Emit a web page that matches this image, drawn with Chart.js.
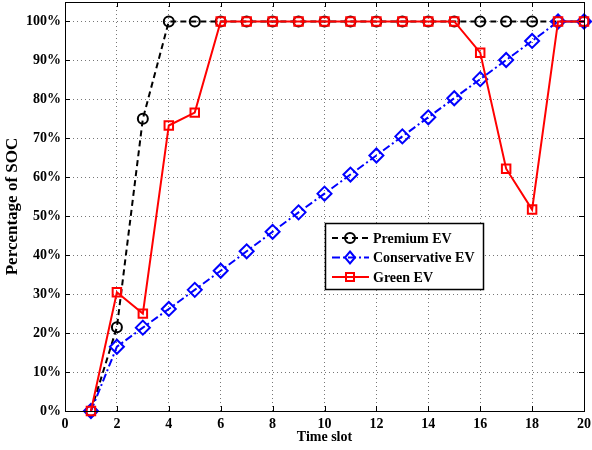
<!DOCTYPE html>
<html>
<head>
<meta charset="utf-8">
<script src="https://cdn.jsdelivr.net/npm/chart.js@4"></script>
<style>
  body { margin: 0; background: #fff; }
</style>
</head>
<body>
<canvas id="soc" width="592" height="450"></canvas>
<script>
// Zeitschlitze und Ladezustand (SOC, %)
const zeitSlots = [1, 2, 3, 4, 5, 6, 7, 8, 9, 10, 11, 12, 13, 14, 15, 16, 17, 18, 19, 20];
const premiumEV = [0, 21.5, 75, 100, 100, 100, 100, 100, 100, 100, 100, 100, 100, 100, 100, 100, 100, 100, 100, 100];
const conservativeEV = [0, 16.5, 21.4, 26.2, 31.1, 36, 41, 46, 51, 55.8, 60.7, 65.6, 70.5, 75.4, 80.3, 85.2, 90.1, 95, 100, 100];
const greenEV = [0, 30.5, 25, 73.3, 76.6, 100, 100, 100, 100, 100, 100, 100, 100, 100, 100, 92, 62.2, 51.7, 100, 100];
const xTicks = [0, 2, 4, 6, 8, 10, 12, 14, 16, 18, 20];
const yTicks = [0, 10, 20, 30, 40, 50, 60, 70, 80, 90, 100];

const schrift = '"Liberation Serif", "DejaVu Serif", serif';

const serien = [
  { label: 'Premium EV', data: premiumEV, color: '#000000', dash: [6, 4], style: 'circle', radius: 5, order: 3 },
  { label: 'Conservative EV', data: conservativeEV, color: '#0000ff', dash: [8, 3, 2, 3], style: 'rectRot', radius: 7, order: 2 },
  { label: 'Green EV', data: greenEV, color: '#ff0000', dash: [], style: 'rect', radius: 6, order: 1 }
];

// Rahmen, Ticks nach innen und Legende im Plotbereich
const rahmenPlugin = {
  id: 'rahmen',
  afterDraw(chart) {
    const { ctx, chartArea: a, scales } = chart;
    ctx.save();
    ctx.strokeStyle = '#000';
    ctx.lineWidth = 1;
    ctx.setLineDash([]);
    ctx.strokeRect(a.left + 0.5, a.top + 0.5, a.right - a.left, a.bottom - a.top);
    ctx.beginPath();
    xTicks.forEach(v => {
      const x = Math.round(scales.x.getPixelForValue(v)) + 0.5;
      ctx.moveTo(x, a.bottom); ctx.lineTo(x, a.bottom - 5);
      ctx.moveTo(x, a.top); ctx.lineTo(x, a.top + 5);
    });
    yTicks.forEach(v => {
      const y = Math.round(scales.y.getPixelForValue(v)) + 0.5;
      ctx.moveTo(a.left, y); ctx.lineTo(a.left + 5, y);
      ctx.moveTo(a.right, y); ctx.lineTo(a.right - 5, y);
    });
    ctx.stroke();

    // Legende
    const lx = 325, ly = 223, lw = 158, lh = 66;
    ctx.fillStyle = '#fff';
    ctx.fillRect(lx, ly, lw, lh);
    ctx.strokeStyle = '#000';
    ctx.lineWidth = 1.5;
    ctx.strokeRect(lx + 0.5, ly + 0.5, lw, lh);
    ctx.font = 'bold 14px ' + schrift;
    ctx.textBaseline = 'middle';
    serien.forEach((s, i) => {
      const y = ly + 15 + i * 19.5;
      ctx.strokeStyle = s.color;
      ctx.lineWidth = 2;
      ctx.setLineDash(s.dash);
      ctx.beginPath();
      ctx.moveTo(lx + 7, y); ctx.lineTo(lx + 44, y);
      ctx.stroke();
      ctx.setLineDash([]);
      ctx.beginPath();
      const mx = lx + 25;
      if (s.style === 'circle') {
        ctx.arc(mx, y, 5, 0, Math.PI * 2);
      } else if (s.style === 'rectRot') {
        ctx.moveTo(mx, y - 6); ctx.lineTo(mx + 5, y); ctx.lineTo(mx, y + 6); ctx.lineTo(mx - 5, y); ctx.closePath();
      } else {
        ctx.rect(mx - 4, y - 4, 8, 8);
      }
      ctx.stroke();
      ctx.fillStyle = '#000';
      ctx.fillText(s.label, lx + 48, y + 1);
    });
    ctx.restore();
  }
};

new Chart(document.getElementById('soc'), {
  type: 'line',
  data: {
    datasets: serien.map(s => ({
      label: s.label,
      data: zeitSlots.map((t, i) => ({ x: t, y: s.data[i] })),
      borderColor: s.color,
      borderWidth: 2,
      borderDash: s.dash,
      pointStyle: s.style,
      pointRadius: s.radius,
      pointBorderWidth: 2,
      pointBorderColor: s.color,
      pointBackgroundColor: 'rgba(0,0,0,0)',
      tension: 0,
      clip: false,
      order: s.order
    }))
  },
  options: {
    responsive: false,
    animation: false,
    maintainAspectRatio: false,
    layout: { autoPadding: false, padding: { left: 0, right: 8, top: 2, bottom: 0 } },
    plugins: { legend: { display: false }, tooltip: { enabled: false } },
    scales: {
      x: {
        type: 'linear', min: 0, max: 20,
        afterBuildTicks: s => { s.ticks = xTicks.map(v => ({ value: v })); },
        afterFit: s => { s.height = 39; s.paddingLeft = 0; s.paddingRight = 0; },
        ticks: { color: '#000', padding: 5, autoSkip: false, maxRotation: 0, font: { family: schrift, size: 14, weight: 'bold' } },
        grid: { color: '#777', lineWidth: 1, drawTicks: false },
        border: { display: false, dash: [1, 3] },
        title: { display: true, text: 'Time slot', color: '#000', padding: { top: 1 }, font: { family: schrift, size: 14, weight: 'bold' } }
      },
      y: {
        type: 'linear', min: 0, max: 105,
        afterBuildTicks: s => { s.ticks = yTicks.map(v => ({ value: v })); },
        afterFit: s => { s.width = 65; s.paddingTop = 0; s.paddingBottom = 0; },
        ticks: { color: '#000', padding: 4, autoSkip: false, callback: v => v + '%', font: { family: schrift, size: 14, weight: 'bold' } },
        grid: { color: '#777', lineWidth: 1, drawTicks: false },
        border: { display: false, dash: [1, 3] },
        title: { display: true, text: 'Percentage of SOC', color: '#000', padding: { top: 2, bottom: 0 }, font: { family: schrift, size: 17, weight: 'bold' } }
      }
    }
  },
  plugins: [rahmenPlugin]
});
</script>
</body>
</html>
